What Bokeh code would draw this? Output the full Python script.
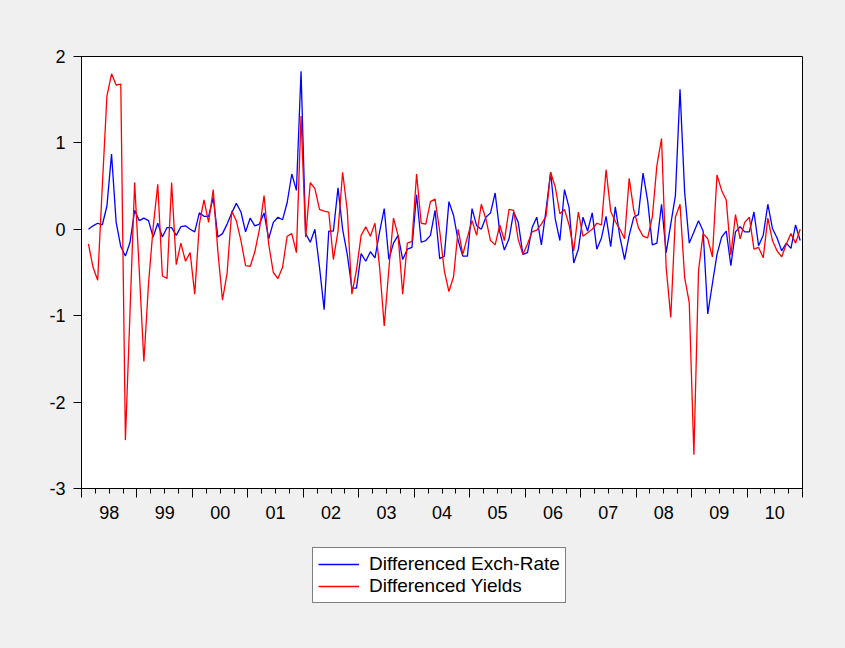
import pandas as pd
from bokeh.plotting import figure
from bokeh.layouts import column
from bokeh.models import (FixedTicker, Legend, LegendItem, LinearAxis, Range1d,
                          CustomJSTickFormatter)
from bokeh.embed import file_html
from bokeh.resources import INLINE

# ---------------- data ----------------
start_month = "1998-02"

exch_rate = [
    0.00, 0.04, 0.07, 0.05, 0.27, 0.87, 0.08, -0.20, -0.31, -0.15,
    0.22, 0.10, 0.13, 0.10, -0.09, 0.07, -0.09, 0.02, 0.02, -0.07,
    0.03, 0.04, 0.00, -0.03, 0.19, 0.15, 0.15, 0.37, -0.09, -0.05,
    0.06, 0.19, 0.30, 0.20, -0.03, 0.13, 0.04, 0.06, 0.19, -0.11,
    0.08, 0.14, 0.11, 0.31, 0.64, 0.45, 1.83, -0.05, -0.15, 0.00,
    -0.44, -0.93, -0.02, -0.02, 0.48, 0.00, -0.29, -0.68, -0.68, -0.28,
    -0.37, -0.26, -0.33, -0.03, 0.24, -0.35, -0.16, -0.07, -0.35, -0.23,
    -0.21, 0.40, -0.15, -0.13, -0.07, 0.22, -0.34, -0.31, 0.32, 0.16,
    -0.13, -0.31, -0.31, 0.24, 0.04, 0.00, 0.14, 0.19, 0.42, -0.03,
    -0.24, -0.11, 0.20, 0.08, -0.29, -0.27, 0.02, 0.14, -0.18, 0.22,
    0.66, 0.12, -0.13, 0.46, 0.25, -0.39, -0.23, 0.14, -0.02, 0.19,
    -0.23, -0.10, 0.15, -0.20, 0.26, -0.09, -0.35, -0.07, 0.14, 0.17,
    0.65, 0.33, -0.18, -0.16, 0.29, -0.27, 0.06, 0.39, 1.62, 0.43,
    -0.16, -0.03, 0.10, -0.02, -0.98, -0.63, -0.29, -0.09, -0.02, -0.42,
    -0.03, 0.03, -0.03, -0.03, 0.20, -0.19, -0.07, 0.29, 0.01, -0.10,
    -0.25, -0.16, -0.22, 0.05, -0.13,
]

yields = [
    -0.17, -0.44, -0.59, 0.50, 1.54, 1.80, 1.67, 1.68, -2.44, -0.95,
    0.54, -0.48, -1.53, -0.63, 0.02, 0.52, -0.54, -0.57, 0.54, -0.41,
    -0.16, -0.37, -0.27, -0.75, 0.06, 0.34, 0.08, 0.46, -0.25, -0.82,
    -0.51, 0.21, 0.10, -0.13, -0.42, -0.43, -0.26, 0.00, 0.39, -0.17,
    -0.50, -0.57, -0.44, -0.08, -0.05, -0.27, 1.31, -0.09, 0.54, 0.47,
    0.23, 0.21, 0.20, -0.35, -0.02, 0.66, 0.22, -0.75, -0.47, -0.07,
    0.03, -0.08, 0.07, -0.44, -1.12, -0.46, 0.13, -0.07, -0.75, -0.16,
    -0.14, 0.64, 0.07, 0.06, 0.32, 0.35, -0.02, -0.48, -0.72, -0.55,
    0.00, -0.29, -0.09, 0.10, -0.07, 0.29, 0.12, -0.13, -0.18, 0.05,
    -0.13, 0.23, 0.22, -0.12, -0.29, -0.17, -0.03, -0.01, 0.06, 0.15,
    0.66, 0.49, 0.18, 0.23, 0.05, -0.25, 0.20, -0.08, -0.04, 0.00,
    0.07, 0.05, 0.69, 0.21, 0.09, 0.00, -0.11, 0.59, 0.22, 0.02,
    -0.08, -0.10, 0.14, 0.74, 1.05, -0.44, -1.02, 0.14, 0.29, -0.56,
    -0.85, -2.61, -0.48, -0.05, -0.11, -0.32, 0.63, 0.45, 0.34, -0.30,
    0.17, -0.11, 0.08, 0.14, -0.23, -0.21, -0.33, 0.13, -0.13, -0.25,
    -0.32, -0.17, -0.05, -0.16, 0.00,
]

years = list(range(1998, 2011))
year_labels = ["98", "99", "00", "01", "02", "03", "04", "05", "06", "07", "08", "09", "10"]
y_ticks = [-3, -2, -1, 0, 1, 2]
series_names = ["Differenced Exch-Rate", "Differenced Yields"]
series_colors = ["#0000FF", "#FF0000"]

# monthly observations plotted at mid-month
periods = pd.period_range(start_month, periods=len(exch_rate), freq="M")
x = [pr.year + (pr.month - 0.5) / 12.0 for pr in periods]

FONT = "Liberation Sans"
BG = "#F0F0F0"

p = figure(
    width=845, height=530,
    x_range=(years[0], years[-1] + 1), y_range=(y_ticks[0], y_ticks[-1]),
    output_backend="svg", toolbar_location=None,
    min_border_left=81, min_border_right=43, min_border_top=56, min_border_bottom=42,
)
p.background_fill_color = "white"
p.border_fill_color = BG
p.outline_line_color = "black"
p.outline_line_width = 1
p.xgrid.visible = False
p.ygrid.visible = False

# y axis
p.yaxis.ticker = FixedTicker(ticks=y_ticks, minor_ticks=[])
p.yaxis.major_label_overrides = {t: str(t) for t in y_ticks}
p.yaxis.major_tick_out = 8
p.yaxis.major_tick_in = 0
p.yaxis.minor_tick_out = 0
p.yaxis.minor_tick_in = 0
p.yaxis.axis_line_color = "black"
p.yaxis.major_tick_line_color = "black"
p.yaxis.major_label_text_font = FONT
p.yaxis.major_label_text_font_size = "18px"
p.yaxis.major_label_text_color = "black"
p.yaxis.major_label_standoff = 8

# x axis (adjacent to the frame): year ticks + quarterly minor ticks, no labels
bounds = years + [years[-1] + 1]
quarters = [y + q / 4.0 for y in years for q in range(4)] + [bounds[-1]]
p.xaxis.ticker = FixedTicker(ticks=bounds, minor_ticks=quarters)
p.xaxis.major_label_overrides = {b: "" for b in bounds}
p.xaxis.major_label_text_font_size = "1px"
p.xaxis.major_label_standoff = 0
p.xaxis.major_tick_out = 9
p.xaxis.major_tick_in = 0
p.xaxis.minor_tick_out = 5
p.xaxis.minor_tick_in = 0
p.xaxis.axis_line_color = "black"
p.xaxis.major_tick_line_color = "black"
p.xaxis.minor_tick_line_color = "black"

# label axis: same scale shifted by half a year so the labels sit mid-year
p.extra_x_ranges = {"mid": Range1d(years[0] - 0.5, years[-1] + 0.5)}
lab_axis = LinearAxis(
    x_range_name="mid",
    ticker=FixedTicker(ticks=years, minor_ticks=[]),
    formatter=CustomJSTickFormatter(args=dict(yrs=years, labs=year_labels),
                                    code="const i = yrs.indexOf(Math.round(tick)); return i >= 0 ? labs[i] : '';"),
    axis_line_color=None, major_tick_out=0, major_tick_in=0,
    minor_tick_out=0, minor_tick_in=0,
    major_label_text_font=FONT, major_label_text_font_size="18px",
    major_label_text_color="black", major_label_standoff=8,
)
p.add_layout(lab_axis, "below")

r1 = p.line(x, exch_rate, line_color=series_colors[0], line_width=1.3)
r2 = p.line(x, yields, line_color=series_colors[1], line_width=1.3)

# legend strip below the chart (its series lie outside its ranges, so only the key shows)
p2 = figure(
    width=845, height=118, x_range=(0, 1), y_range=(0, 1),
    output_backend="svg", toolbar_location=None,
    x_axis_type=None, y_axis_type=None,
    min_border_left=0, min_border_right=0, min_border_top=0, min_border_bottom=0,
)
p2.background_fill_color = BG
p2.border_fill_color = BG
p2.outline_line_color = None
p2.xgrid.visible = False
p2.ygrid.visible = False
k1 = p2.line(x, exch_rate, line_color=series_colors[0], line_width=1.3)
k2 = p2.line(x, yields, line_color=series_colors[1], line_width=1.3)

legend = Legend(
    items=[LegendItem(label=series_names[0], renderers=[k1]),
           LegendItem(label=series_names[1], renderers=[k2])],
    location=(231, 45),
    orientation="vertical",
    border_line_color="black", border_line_width=1,
    background_fill_color="white", background_fill_alpha=1.0,
    label_text_font=FONT, label_text_font_size="19px", label_text_color="black",
    glyph_width=41, glyph_height=18, label_height=18, label_standoff=10,
    padding=5, spacing=0, margin=0,
)
p2.add_layout(legend, "center")

layout = column(p, p2, spacing=0, styles={"background-color": BG})
open("out.html", "w").write(file_html(layout, INLINE))
